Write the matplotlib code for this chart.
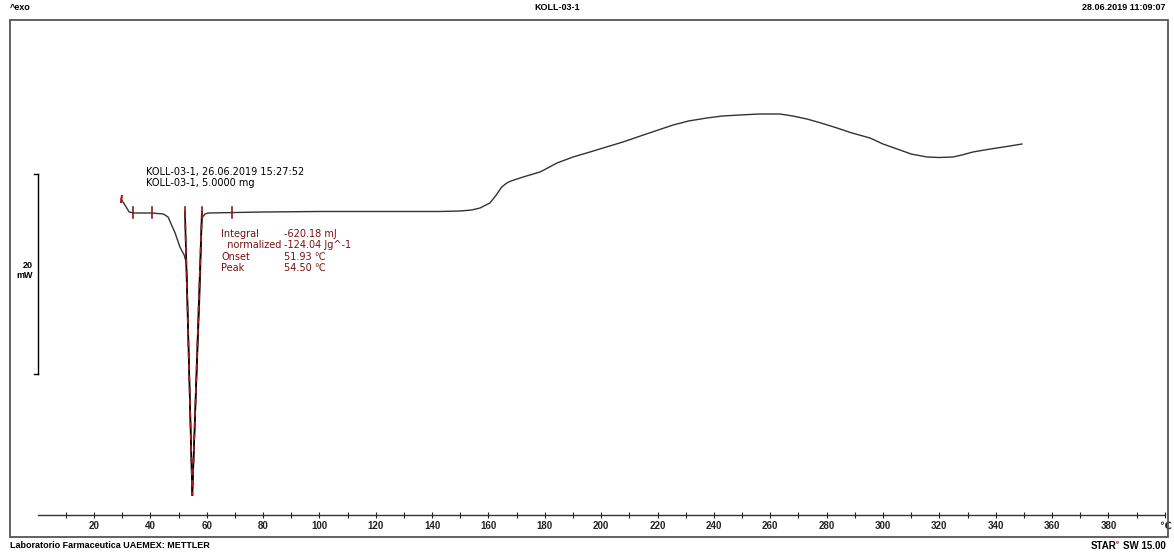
import matplotlib
matplotlib.use("Agg")
import matplotlib.pyplot as plt
from matplotlib.patches import Rectangle

# ---------------- data ----------------
temp_c = [29.6, 31.0, 32.5, 34.0, 36.0, 40.6, 44.6, 46.3, 48.8, 50.5, 52.0, 52.7,
          53.0, 54.0, 54.9, 55.7, 56.8, 57.6, 58.3, 59.4, 60.5, 80.0, 100.0,
          120.0, 142.8, 150.0, 154.0, 157.0, 160.5, 162.5, 164.7, 166.5, 168.0,
          172.3, 178.3, 181.0, 184.3, 190.0, 196.0, 207.7, 216.0, 225.5, 231.0,
          237.5, 243.0, 249.2, 256.0, 263.4, 268.0, 273.0, 278.0, 283.7, 289.0,
          295.4, 300.0, 306.0, 310.0, 315.6, 320.0, 324.8, 328.0, 331.9, 336.0,
          340.4, 345.0, 349.3]
heat_flow_mw = [1.3, 0.7, 0.0, -0.1, -0.1, -0.1, -0.2, -0.5, -2.1, -3.5, -4.3, -5.0,
                -6.5, -18.0, -28.3, -22.2, -13.8, -7.8, -0.6, -0.2, -0.1, 0.0, 0.05,
                0.05, 0.05, 0.1, 0.2, 0.4, 0.9, 1.6, 2.5, 2.9, 3.1,
                3.5, 4.0, 4.4, 4.9, 5.5, 6.0, 7.0, 7.8, 8.7, 9.1,
                9.4, 9.6, 9.7, 9.8, 9.8, 9.6, 9.3, 8.9, 8.4, 7.9,
                7.4, 6.8, 6.2, 5.8, 5.5, 5.45, 5.5, 5.7, 6.0, 6.2,
                6.4, 6.6, 6.8]

# integration / evaluation marks
tangent_left_t = [52.3, 54.9]
tangent_left_y = [0.0, -28.3]
tangent_right_t = [58.3, 54.9]
tangent_right_y = [0.0, -28.3]
limit_marks_t = [33.9, 40.6, 52.3, 58.3, 69.0]
start_mark_t = 29.6

major_ticks = list(range(20, 381, 20))
minor_ticks = list(range(10, 391, 20))
tick_labels = [str(v) for v in major_ticks]

result_labels = ["Integral", "  normalized", "Onset", "Peak"]
result_values = ["-620.18 mJ", "-124.04 Jg^-1", "51.93 \u2103", "54.50 \u2103"]

BOLD_FAM = ["Liberation Sans", "DejaVu Sans"]

W, H = 1174, 553
fig = plt.figure(figsize=(W / 100, H / 100), dpi=100)

def fx(px):
    return px / W

def fy(py):
    return 1 - py / H

# outer frame
fig.patches.append(Rectangle((fx(10), fy(537)), fx(1168) - fx(10), fy(20) - fy(537),
                             transform=fig.transFigure, fill=False,
                             edgecolor="#555555", lw=1.3))

ax = fig.add_axes([fx(37.6), fy(515), 1127.2 / W, (515 - 22) / H])
ax.set_xlim(0, 400)
ax.set_ylim(-30.3, 19.0)
for s in ["top", "right", "left"]:
    ax.spines[s].set_visible(False)
ax.spines["bottom"].set_color("#333333")
ax.spines["bottom"].set_linewidth(1.0)
ax.set_yticks([])
ax.set_xticks(major_ticks + [400])
ax.set_xticklabels(tick_labels + ["\u2103"])
ax.set_xticks(minor_ticks, minor=True)
ax.tick_params(axis="x", which="both", direction="inout", length=5, width=0.8,
               pad=2, labelsize=7, colors="#222222")
for lab in ax.get_xticklabels():
    lab.set_fontweight("bold")
    lab.set_family(BOLD_FAM)

# curve
ax.plot(temp_c, heat_flow_mw, color="#333333", lw=1.0, zorder=3)
# tangents (red dashed over black)
ax.plot(tangent_left_t, tangent_left_y, color="black", lw=1.2, zorder=4)
ax.plot(tangent_left_t, tangent_left_y, color="#b01818", lw=1.2, dashes=(4, 3), zorder=5)
ax.plot(tangent_right_t, tangent_right_y, color="black", lw=1.2, zorder=4)
ax.plot(tangent_right_t, tangent_right_y, color="#b01818", lw=1.2, dashes=(4, 3), zorder=5)
# limit marks
for t in limit_marks_t:
    ax.plot([t, t], [-0.55, 0.55], color="#8b1a1a", lw=1.2, zorder=6)
ax.plot([start_mark_t, start_mark_t + 0.3], [1.0, 1.6], color="#b01818", lw=1.5, zorder=6)

# scale bar
ax.plot([0, 0], [3.8, -16.2], color="black", lw=1.0, clip_on=False)
ax.plot([-1.3, 0], [3.8, 3.8], color="black", lw=1.0, clip_on=False)
ax.plot([-1.3, 0], [-16.2, -16.2], color="black", lw=1.0, clip_on=False)
fig.text(fx(33), fy(265), "20", ha="right", va="center", fontsize=6.5,
         fontweight="bold", family=BOLD_FAM)
fig.text(fx(33), fy(275), "mW", ha="right", va="center", fontsize=6.5,
         fontweight="bold", family=BOLD_FAM)

# sample info
fig.text(fx(146), fy(172), "KOLL-03-1, 26.06.2019 15:27:52", ha="left", va="center",
         fontsize=7, color="black", family="DejaVu Sans")
fig.text(fx(146), fy(183), "KOLL-03-1, 5.0000 mg", ha="left", va="center",
         fontsize=7, color="black", family="DejaVu Sans")

# results
for i, (lab, val) in enumerate(zip(result_labels, result_values)):
    y = 234 + i * 11.3
    fig.text(fx(221), fy(y), lab, ha="left", va="center", fontsize=7,
             color="#7a1010", family="DejaVu Sans")
    fig.text(fx(284), fy(y), val, ha="left", va="center", fontsize=7,
             color="#7a1010", family="DejaVu Sans")

# header / footer
fig.text(fx(10), fy(8), "^exo", ha="left", va="center", fontsize=6.5,
         fontweight="bold", family=BOLD_FAM)
fig.text(fx(557), fy(8), "KOLL-03-1", ha="center", va="center", fontsize=6.5,
         fontweight="bold", family=BOLD_FAM)
fig.text(fx(1166), fy(8), "28.06.2019 11:09:07", ha="right", va="center",
         fontsize=6.5, fontweight="bold", family=BOLD_FAM)
fig.text(fx(10), fy(545), "Laboratorio Farmaceutica UAEMEX: METTLER", ha="left",
         va="center", fontsize=6.5, fontweight="bold", family=BOLD_FAM)
fig.text(fx(1166), fy(546), "SW 15.00", ha="right", va="center", fontsize=7,
         fontweight="bold", family=BOLD_FAM)
fig.text(fx(1116), fy(546), "STAR", ha="right", va="center", fontsize=7,
         fontweight="bold", family=BOLD_FAM)
fig.text(fx(1116), fy(543), "e", ha="left", va="center", fontsize=4,
         fontweight="bold", color="#b01818", family=BOLD_FAM)

fig.savefig("out.png", dpi=100)
